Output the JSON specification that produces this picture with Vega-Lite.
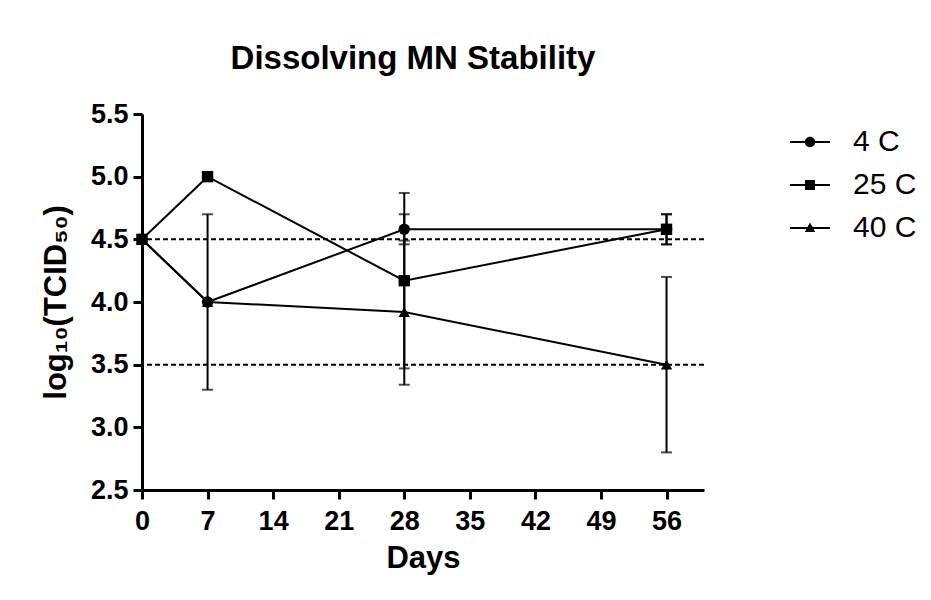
{
  "$schema": "https://vega.github.io/schema/vega-lite/v6.json",
  "autosize": "none",
  "width": 562,
  "height": 376,
  "padding": {"left": 142, "top": 114, "right": 227, "bottom": 110},
  "background": "white",
  "title": {
    "text": "Dissolving MN Stability",
    "font": "Liberation Sans",
    "fontSize": 33,
    "fontWeight": "bold",
    "color": "black",
    "anchor": "middle",
    "frame": "group",
    "baseline": "alphabetic",
    "offset": 0,
    "dy": 2,
    "dx": -10
  },
  "config": {
    "view": {"stroke": null},
    "axis": {
      "grid": false,
      "domainColor": "black",
      "domainWidth": 3,
      "tickColor": "black",
      "tickWidth": 3,
      "tickSize": 9,
      "labelFont": "Liberation Sans",
      "labelFontSize": 27,
      "labelFontWeight": "bold",
      "labelColor": "black",
      "titleFont": "Liberation Sans",
      "titleFontSize": 31,
      "titleFontWeight": "bold",
      "titleColor": "black"
    },
    "legend": {
      "labelFont": "Liberation Sans",
      "labelFontSize": 30,
      "labelColor": "black"
    }
  },
  "data": {
    "values": [
      {"series": "4 C", "day": 0, "value": 4.5, "lo": null, "hi": null},
      {"series": "4 C", "day": 7, "value": 4.0, "lo": 3.3, "hi": 4.7},
      {"series": "4 C", "day": 28, "value": 4.58, "lo": 4.46, "hi": 4.7},
      {"series": "4 C", "day": 56, "value": 4.58, "lo": 4.46, "hi": 4.7},
      {"series": "25 C", "day": 0, "value": 4.5, "lo": null, "hi": null},
      {"series": "25 C", "day": 7, "value": 5.0, "lo": null, "hi": null},
      {"series": "25 C", "day": 28, "value": 4.17, "lo": 3.47, "hi": 4.87},
      {"series": "25 C", "day": 56, "value": 4.58, "lo": 4.46, "hi": 4.7},
      {"series": "40 C", "day": 0, "value": 4.5, "lo": null, "hi": null},
      {"series": "40 C", "day": 7, "value": 4.0, "lo": null, "hi": null},
      {"series": "40 C", "day": 28, "value": 3.92, "lo": 3.34, "hi": 4.49},
      {"series": "40 C", "day": 56, "value": 3.5, "lo": 2.8, "hi": 4.2}
    ]
  },
  "encoding": {
    "x": {
      "field": "day",
      "type": "quantitative",
      "title": "Days",
      "scale": {"domain": [0, 60], "nice": false, "zero": false},
      "axis": {"values": [0, 7, 14, 21, 28, 35, 42, 49, 56], "labelPadding": 9, "titlePadding": 9, "labelFlush": false}
    }
  },
  "layer": [
    {
      "data": {"values": [{"limit": 4.5}, {"limit": 3.5}]},
      "mark": {"type": "rule", "color": "black", "strokeWidth": 2, "strokeDash": [5, 3]},
      "encoding": {
        "x": null,
        "y": {"field": "limit", "type": "quantitative"}
      }
    },
    {
      "mark": {"type": "line", "color": "black", "strokeWidth": 2},
      "encoding": {
        "y": {
          "field": "value",
          "type": "quantitative",
          "title": "log₁₀(TCID₅₀)",
          "scale": {"domain": [2.5, 5.5], "nice": false, "zero": false},
          "axis": {"values": [2.5, 3.0, 3.5, 4.0, 4.5, 5.0, 5.5], "format": ".1f", "labelPadding": 5, "titlePadding": 18, "labelFlush": false}
        },
        "detail": {"field": "series"},
        "order": {"field": "day", "type": "quantitative"}
      }
    },
    {
      "transform": [{"filter": "datum.lo != null"}],
      "mark": {"type": "rule", "color": "black", "strokeWidth": 2},
      "encoding": {
        "y": {"field": "lo", "type": "quantitative"},
        "y2": {"field": "hi"}
      }
    },
    {
      "transform": [{"filter": "datum.lo != null"}],
      "mark": {"type": "tick", "orient": "horizontal", "color": "black", "size": 11, "thickness": 2},
      "encoding": {
        "y": {"field": "lo", "type": "quantitative"}
      }
    },
    {
      "transform": [{"filter": "datum.hi != null"}],
      "mark": {"type": "tick", "orient": "horizontal", "color": "black", "size": 11, "thickness": 2},
      "encoding": {
        "y": {"field": "hi", "type": "quantitative"}
      }
    },
    {
      "mark": {"type": "point", "filled": true, "color": "black", "opacity": 1, "size": 130},
      "encoding": {
        "y": {"field": "value", "type": "quantitative"},
        "shape": {
          "field": "series",
          "type": "nominal",
          "sort": ["4 C", "25 C", "40 C"],
          "scale": {"domain": ["4 C", "25 C", "40 C"], "range": ["circle", "square", "triangle-up"]},
          "legend": null
        }
      }
    },
    {
      "mark": {"type": "point", "filled": true, "color": "black", "opacity": 0, "size": 1600},
      "encoding": {
        "y": {"field": "value", "type": "quantitative"},
        "shape": {
          "field": "series",
          "type": "nominal",
          "sort": ["4 C", "25 C", "40 C"],
          "scale": {
            "domain": ["4 C", "25 C", "40 C"],
            "range": [
              "M-1,-0.05H1V0.05H-1Z M0.26,0A0.26,0.26,0,1,1,-0.26,0A0.26,0.26,0,1,1,0.26,0Z",
              "M-1,-0.05H1V0.05H-1Z M-0.25,-0.25H0.25V0.25H-0.25Z",
              "M-1,-0.05H1V0.05H-1Z M0,-0.28L0.26,0.2H-0.26Z"
            ]
          },
          "legend": {
            "title": null,
            "orient": "right",
            "offset": 78,
            "padding": 7,
            "symbolSize": 1600,
            "labelOffset": 22,
            "rowPadding": 7,
            "encode": {
              "symbols": {
                "update": {
                  "fill": {"value": "black"},
                  "stroke": {"value": "transparent"},
                  "opacity": {"value": 1},
                  "fillOpacity": {"value": 1}
                }
              }
            }
          }
        }
      }
    }
  ],
  "resolve": {"scale": {"shape": "independent"}, "legend": {"shape": "independent"}}
}
